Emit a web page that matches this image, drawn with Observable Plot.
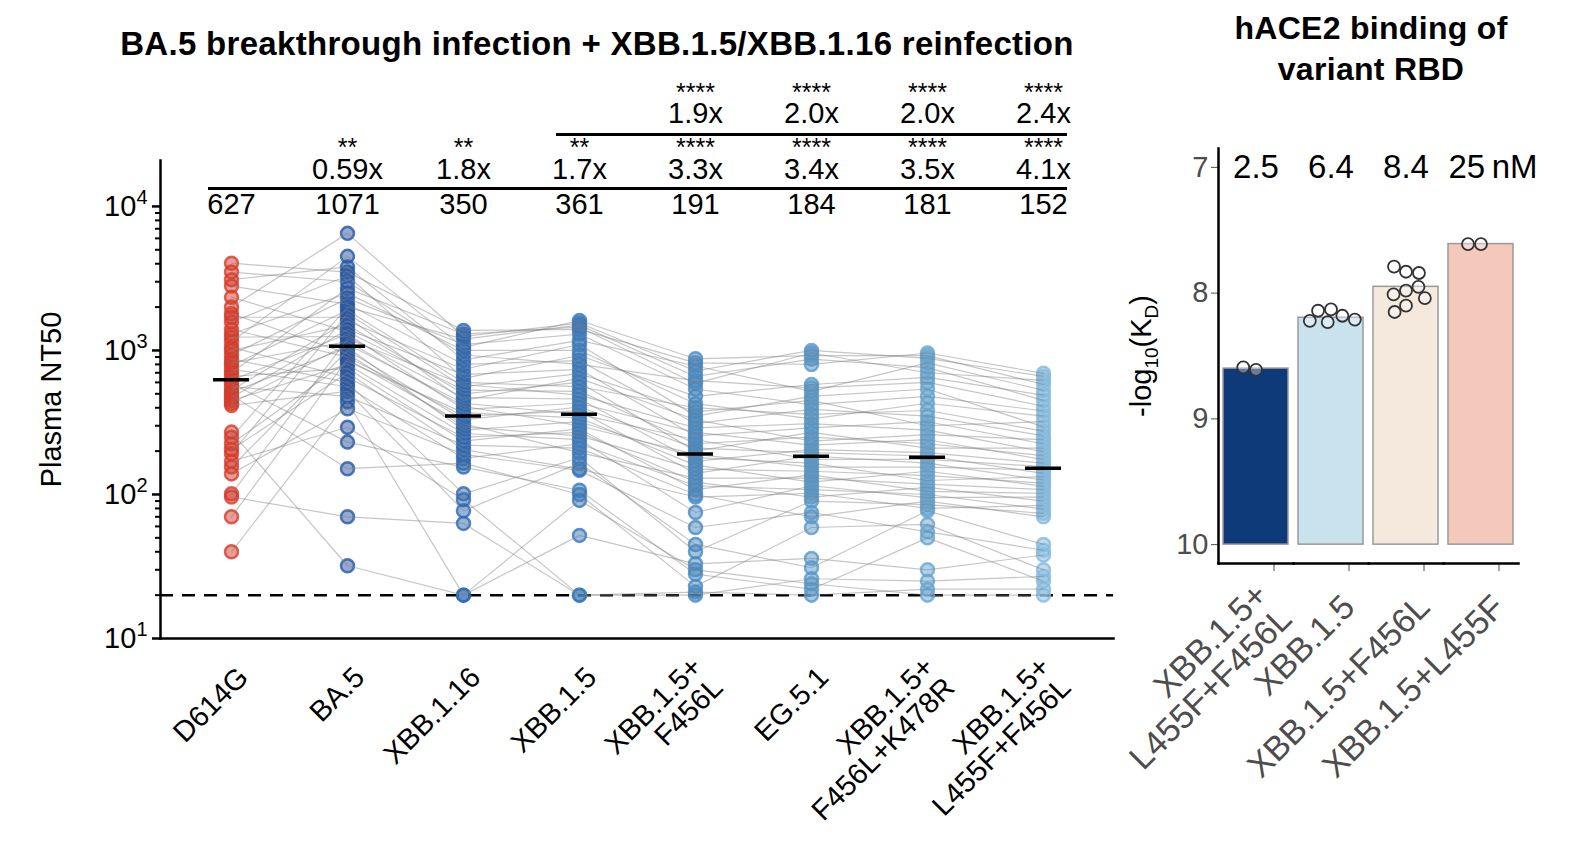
<!DOCTYPE html>
<html><head><meta charset="utf-8">
<script src="https://cdn.jsdelivr.net/npm/d3@7"></script>
<script src="https://cdn.jsdelivr.net/npm/@observablehq/plot@0.6"></script>
<style>
body{margin:0;background:#fff;font-family:"Liberation Sans",Arial,sans-serif;}
#wrap{position:relative;width:1589px;height:842px;overflow:hidden;background:#fff;}
#left{position:absolute;left:0;top:0;}
#right{position:absolute;left:1115px;top:0;}
.title{position:absolute;font-weight:bold;font-size:33px;text-align:center;color:#000;line-height:41px;letter-spacing:0.3px;}
</style></head><body><div id="wrap">
<div id="left"></div><div id="right"></div>
<div class="title" style="left:97px;top:23px;width:1000px;">BA.5 breakthrough infection + XBB.1.5/XBB.1.16 reinfection</div>
<div class="title" style="left:1171px;top:8px;width:400px;font-size:32px;">hACE2 binding of<br>variant RBD</div>
</div>
<script>
// ---------- left panel data ----------
const variants = ["D614G","BA.5","XBB.1.16","XBB.1.5","XBB.1.5+\nF456L","EG.5.1","XBB.1.5+\nF456L+K478R","XBB.1.5+\nL455F+F456L"];
const variantColors = ["#d63c2b","#2857a3","#2d69b1","#3879bc","#478ac3","#5898c9","#68a5d1","#86badd"];
// plasma NT50 per variant (sorted high -> low)
const nt50_D614G = [4036,3500,3100,2800,2344,2000,1800,1700,1573,1400,1300,1237,1150,1050,1000,930,870,820,787,740,700,660,620,590,560,530,513,490,470,449,430,415,271,250,225,205,192,170,155,139,101,96,70,40];
const nt50_BA5 = [6500,4500,3800,3500,3300,3000,2700,2500,2300,2100,2000,1900,1800,1700,1600,1500,1400,1350,1300,1250,1200,1150,1100,1050,1000,950,900,870,840,800,750,700,650,600,560,520,480,440,394,293,231,151,70,32];
const nt50_XBB116 = [1377,1300,1250,1200,1100,1050,1000,930,860,800,740,680,640,600,580,560,530,500,470,450,430,410,390,370,350,330,310,295,280,265,250,235,220,205,190,178,165,155,101,92,77,63,20,20];
const nt50_XBB15 = [1614,1550,1500,1450,1400,1300,1175,1100,1000,923,850,800,740,690,640,600,560,520,490,460,430,405,380,360,340,320,300,285,270,255,240,225,210,195,180,165,150,147,107,100,91,52,20,20];
const nt50_F456L = [875,820,780,720,660,617,590,540,480,427,400,375,350,330,310,290,270,255,240,225,210,200,190,180,170,160,150,140,130,122,115,108,100,96,75,59,45,40,33,30,28,23,21,20];
const nt50_EG51 = [1000,960,920,870,800,580,550,520,480,450,420,390,360,335,310,290,270,250,235,220,205,195,185,175,165,155,145,137,130,122,115,108,102,96,90,75,70,59,36,31,26,24,22,20];
const nt50_K478R = [960,920,880,820,760,700,650,600,540,480,430,383,350,320,300,280,260,240,225,210,195,185,175,165,155,145,135,125,118,112,105,100,95,90,85,80,77,62,55,50,30,25,22,20];
const nt50_L455F = [694,660,620,580,529,490,450,410,380,350,320,295,275,255,240,225,210,198,186,175,165,156,148,140,133,126,120,114,108,102,96,90,84,79,74,70,45,41,38,30,27,25,22,20];
// rank of each participant (row) within each variant column
const rank_D614G = [5,0,12,20,2,33,8,15,1,25,10,36,3,18,28,7,40,14,22,4,30,11,38,17,9,26,34,6,21,42,13,29,19,35,24,16,39,31,27,43,23,37,32,41];
const rank_BA5 = [0,3,1,6,2,10,4,8,5,14,7,12,9,11,16,13,20,15,18,17,22,19,24,21,26,23,28,25,30,27,32,29,34,31,36,33,38,35,41,37,40,39,43,42];
const rank_XBB116 = [2,0,5,1,8,3,12,4,7,10,6,15,9,13,11,19,14,17,22,16,20,18,25,21,24,28,23,27,31,26,30,29,35,33,32,38,34,40,36,43,37,39,42,41];
const rank_XBB15 = [1,4,0,3,6,2,9,5,11,7,8,13,10,16,12,14,18,15,20,17,23,19,21,26,22,25,24,29,27,33,28,30,31,36,32,34,37,35,39,41,38,43,40,42];
const rank_F456L = [3,1,0,6,2,4,8,7,5,12,9,11,14,10,17,13,15,21,16,19,18,24,20,22,27,23,25,26,31,28,29,34,30,33,32,37,35,36,41,38,40,43,39,42];
const rank_EG51 = [0,4,2,1,7,3,5,10,6,8,13,9,11,12,15,18,14,16,19,17,23,20,21,25,22,24,29,26,27,28,33,30,31,32,36,34,35,39,37,38,42,40,41,43];
const rank_K478R = [2,0,1,5,3,4,6,9,7,8,10,14,12,11,13,16,15,19,17,18,22,20,21,24,23,27,25,26,30,28,29,32,31,35,33,34,38,36,37,40,39,41,43,42];
const rank_L455F = [1,0,3,2,4,6,5,8,7,11,9,10,13,12,15,14,17,16,19,18,21,20,23,22,25,24,27,26,29,28,31,30,33,32,35,34,37,36,39,38,41,40,43,42];
const gmt = [627,1071,350,361,191,184,181,152];
const foldLow = ["","0.59x","1.8x","1.7x","3.3x","3.4x","3.5x","4.1x"];
const starsLow = ["","**","**","**","****","****","****","****"];
const foldHigh = ["","","","","1.9x","2.0x","2.0x","2.4x"];
const starsHigh = ["","","","","****","****","****","****"];
const lod = [20];
const yMajor = [10,100,1000,10000];
const yMajorExp = ["1","2","3","4"];
const yMinor = [20,30,40,50,60,70,80,90,200,300,400,500,600,700,800,900,2000,3000,4000,5000,6000,7000,8000,9000];

// ---------- right panel data ----------
const kdVariants = ["XBB.1.5+\nL455F+F456L","XBB.1.5","XBB.1.5+F456L","XBB.1.5+L455F"];
const kdBarValue = [8.60,8.196,7.95,7.61];
const kdNM = ["2.5","6.4","8.4","25"];
const kdUnit = "nM";
const kdTicks = [7,8,9,10];
const kdBarColors = ["#0f3a7a","#c8e3ee","#f5e8dc","#f5c8bc"];
const kdReps = [
  [8.61,8.59],
  [8.13,8.14,8.18,8.22,8.23,8.21],
  [7.98,8.01,7.95,8.04,8.10,8.15,7.83,7.79,7.84],
  [7.61,7.61]
];

// ---------- build tables ----------
const sortedCols = [nt50_D614G,nt50_BA5,nt50_XBB116,nt50_XBB15,nt50_F456L,nt50_EG51,nt50_K478R,nt50_L455F];
const rankCols = [rank_D614G,rank_BA5,rank_XBB116,rank_XBB15,rank_F456L,rank_EG51,rank_K478R,rank_L455F];
const long = [];
for (let p = 0; p < rank_D614G.length; p++) {
  variants.forEach((v, i) => long.push({pid: p, variant: v, value: sortedCols[i][rankCols[i][p]]}));
}
const annot = variants.map((v, i) => ({variant: v, gmt: gmt[i], foldLow: foldLow[i], starsLow: starsLow[i], foldHigh: foldHigh[i], starsHigh: starsHigh[i]}));
const kdBars = kdVariants.map((v, i) => ({variant: v, value: kdBarValue[i], nm: kdNM[i]}));
const kdPoints = kdVariants.flatMap((v, i) => kdReps[i].map(value => ({variant: v, value})));

const FONT = "'Liberation Sans', Arial, sans-serif";
const TOP = 1e4;

const left = Plot.plot({
  width: 1115, height: 842,
  marginLeft: 160, marginRight: 2, marginTop: 160, marginBottom: 204,
  style: {fontFamily: FONT, fontSize: "29px", color: "black", background: "transparent", overflow: "visible"},
  x: {type: "point", domain: variants, padding: 0.6},
  y: {type: "log", domain: [10, 20840]},
  color: {domain: variants, range: variantColors},
  marks: [
    Plot.axisX({tickRotate: -45, tickSize: 0, tickPadding: 34, dx: 12, label: null}),
    Plot.axisY(yMajor, {tickFormat: d => "10" + yMajorExp[yMajor.indexOf(d)], tickSize: 8, strokeWidth: 2.5, tickPadding: 5, label: "Plasma NT50", labelAnchor: "center", labelOffset: 120, labelArrow: "none"}),
    Plot.axisY(yMinor, {tickFormat: () => "", tickSize: 5, strokeWidth: 2, label: null}),
    Plot.frame({anchor: "left", strokeWidth: 2.5}),
    Plot.frame({anchor: "bottom", strokeWidth: 2.5}),
    Plot.ruleY(lod, {strokeDasharray: "13,9", strokeWidth: 2.5}),
    Plot.dot(long, {x: "variant", y: "value", r: 6.5, fill: "variant", stroke: "variant", fillOpacity: 0.5, strokeOpacity: 0.8, strokeWidth: 2.5}),
    Plot.line(long, {x: "variant", y: "value", z: "pid", stroke: "#808080", strokeOpacity: 0.45, strokeWidth: 1.2}),
    Plot.ruleY(annot, {x1: "variant", x2: "variant", y: "gmt", strokeWidth: 3.5, insetLeft: -18, insetRight: -18}),
    Plot.text(annot, {x: "variant", y: () => TOP, text: d => String(d.gmt), dy: -2}),
    Plot.ruleY([TOP], {x1: () => variants[0], x2: () => variants[7], dy: -18, insetLeft: -23, insetRight: -24, strokeWidth: 3}),
    Plot.text(annot, {x: "variant", y: () => TOP, text: "foldLow", dy: -37}),
    Plot.text(annot, {x: "variant", y: () => TOP, text: "starsLow", dy: -58, fontSize: 25}),
    Plot.ruleY([TOP], {x1: () => variants[3], x2: () => variants[7], dy: -72, insetLeft: -23, insetRight: -24, strokeWidth: 3}),
    Plot.text(annot, {x: "variant", y: () => TOP, text: "foldHigh", dy: -93}),
    Plot.text(annot, {x: "variant", y: () => TOP, text: "starsHigh", dy: -113, fontSize: 25})
  ]
});
document.getElementById("left").append(left);
// superscript exponents on the log-axis tick labels and plain axis title
d3.select(left).selectAll("text").each(function() {
  const t = this.textContent;
  const k = yMajor.findIndex((d, i) => t === "10" + yMajorExp[i]);
  if (k >= 0 && this.childElementCount === 0) {
    this.innerHTML = '10<tspan dy="-12" font-size="20">' + yMajorExp[k] + '</tspan>';
  } else if (t.includes("Plasma NT50")) {
    this.textContent = "Plasma NT50";
  }
});

const right = Plot.plot({
  width: 474, height: 842,
  marginLeft: 102, marginRight: 71, marginTop: 148, marginBottom: 279,
  style: {fontFamily: FONT, fontSize: "29px", color: "#4d4d4d", background: "transparent", overflow: "visible"},
  fx: {domain: kdVariants, padding: 0},
  y: {domain: [10.15, 6.85]},
  color: {domain: kdVariants, range: kdBarColors},
  marks: [
    Plot.axisFx({anchor: "bottom", tickRotate: -45, tickSize: 8, tickPadding: 30, dx: 18, fontSize: 34, label: null}),
    Plot.axisY(kdTicks, {tickFormat: d => String(d), tickSize: 7, label: "-log10(KD)", labelAnchor: "center", labelOffset: 88, labelArrow: "none"}),
    Plot.barY(kdBars, {fx: "variant", y1: () => 10, y2: "value", fill: "variant", stroke: "#9a9a9a", strokeWidth: 1.5, insetLeft: 5, insetRight: 5}),
    Plot.dot(kdPoints, Plot.dodgeX("middle", {fx: "variant", y: "value", r: 6, padding: 2, fill: "white", fillOpacity: 0.35, stroke: "#333", strokeWidth: 1.8})),
    Plot.text(kdBars.slice(0, 3), {fx: "variant", y: () => 7, text: "nm", fill: "black", fontSize: 33}),
    Plot.text(kdBars.slice(3), {fx: "variant", y: () => 7, text: d => d.nm + "\u2009" + kdUnit, dx: 12, fill: "black", fontSize: 33}),
    Plot.frame({anchor: "bottom", stroke: "black", strokeWidth: 2.5}),
    Plot.frame({anchor: "left", stroke: "black", strokeWidth: 2.5, facetAnchor: "left"})
  ]
});
document.getElementById("right").append(right);
d3.select(right).selectAll("text").each(function() {
  if (this.textContent.includes("-log10(KD)")) {
    this.setAttribute("fill", "black");
    this.innerHTML = '-log<tspan dy="7" font-size="19">10</tspan><tspan dy="-7">(K</tspan><tspan dy="7" font-size="19">D</tspan><tspan dy="-7">)</tspan>';
  }
});
</script>
</body></html>
